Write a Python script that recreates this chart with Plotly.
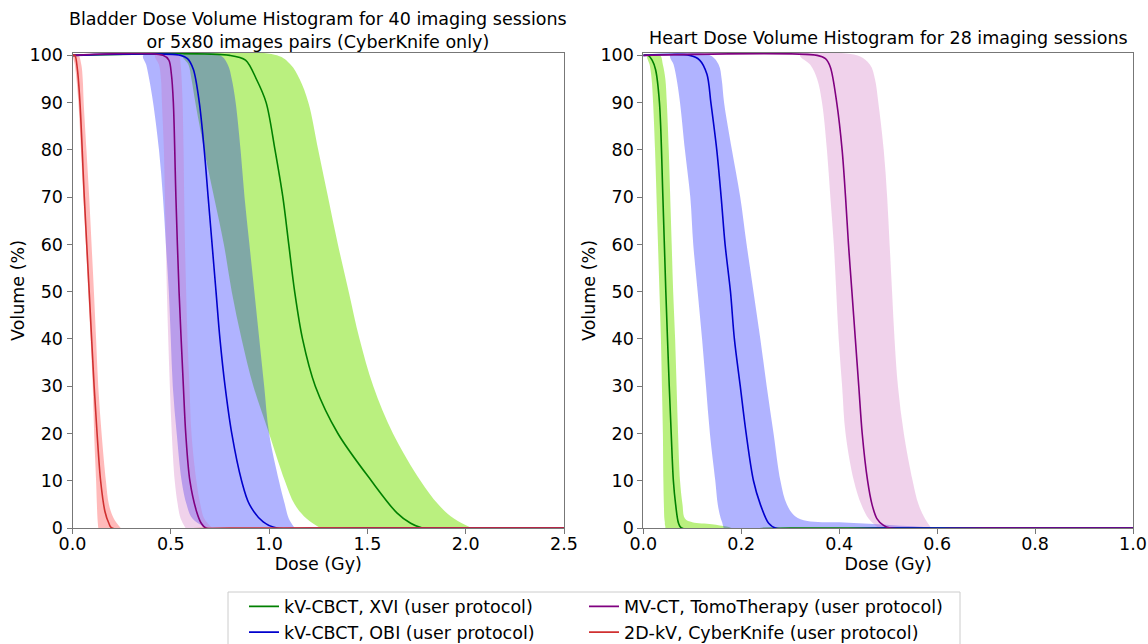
import plotly.graph_objects as go

# ---------------- data ----------------
# Bladder (left panel)
b_band_vol = [100, 98, 95, 90, 80, 70, 60, 50, 40, 30, 20, 10, 5, 2, 0]

b_xvi_line_dose = [0, 0.80, 0.88, 0.935, 0.985, 1.03, 1.07, 1.10, 1.13, 1.17, 1.235, 1.35, 1.52, 1.65, 1.72, 1.78, 2.1, 2.5]
b_xvi_line_vol = [100, 100, 99, 95, 90, 80, 70, 60, 50, 40, 30, 20, 10, 3.2, 1, 0, 0, 0]
b_xvi_lo = [0.56, 0.59, 0.605, 0.625, 0.67, 0.72, 0.77, 0.81, 0.86, 0.92, 1.0, 1.08, 1.13, 1.19, 1.26]
b_xvi_hi = [1.04, 1.11, 1.155, 1.20, 1.25, 1.30, 1.35, 1.405, 1.46, 1.53, 1.63, 1.77, 1.86, 1.94, 2.03]

b_obi_line_dose = [0, 0.55, 0.585, 0.615, 0.645, 0.67, 0.69, 0.71, 0.73, 0.75, 0.776, 0.81, 0.86, 0.90, 0.97, 1.04, 1.5, 2.5]
b_obi_line_vol = [100, 100, 99.3, 97, 90, 80, 70, 60, 50, 40, 30, 20, 10, 5, 1.3, 0, 0, 0]
b_obi_lo = [0.36, 0.375, 0.39, 0.41, 0.44, 0.46, 0.475, 0.49, 0.50, 0.51, 0.53, 0.555, 0.58, 0.61, 0.68]
b_obi_hi = [0.75, 0.79, 0.81, 0.83, 0.855, 0.875, 0.90, 0.925, 0.95, 0.975, 1.0, 1.05, 1.08, 1.10, 1.13]

b_mv_line_dose = [0, 0.46, 0.49, 0.503, 0.513, 0.526, 0.542, 0.564, 0.576, 0.597, 0.631, 0.655, 0.679, 1.2, 2.5]
b_mv_line_vol = [100, 100, 99, 96, 90, 70, 50, 30, 20, 10, 3.5, 1, 0, 0, 0]
b_mv_lo = [0.42, 0.44, 0.45, 0.455, 0.465, 0.47, 0.475, 0.48, 0.487, 0.495, 0.505, 0.52, 0.535, 0.55, 0.575]
b_mv_hi = [0.54, 0.55, 0.555, 0.56, 0.565, 0.568, 0.572, 0.578, 0.585, 0.595, 0.605, 0.63, 0.65, 0.67, 0.71]

b_ck_line_dose = [0, 0.012, 0.025, 0.038, 0.06, 0.085, 0.11, 0.125, 0.143, 0.165, 0.185, 0.2, 0.8, 2.5]
b_ck_line_vol = [100, 100, 97, 90, 70, 50, 30, 20, 10, 3.5, 1, 0, 0, 0]
b_ck_lo = [0.004, 0.012, 0.02, 0.03, 0.043, 0.055, 0.068, 0.08, 0.092, 0.103, 0.11, 0.12, 0.124, 0.127, 0.131]
b_ck_hi = [0.03, 0.045, 0.052, 0.057, 0.071, 0.085, 0.097, 0.109, 0.12, 0.131, 0.148, 0.17, 0.185, 0.21, 0.245]

# Heart (right panel)
h_xvi_line_dose = [0, 0.01, 0.018, 0.025, 0.033, 0.04, 0.046, 0.053, 0.057, 0.0614, 0.066, 0.072, 0.078, 0.3, 1.0]
h_xvi_line_vol = [100, 100, 99, 97, 90, 70, 50, 30, 20, 10, 5, 1, 0, 0, 0]
h_xvi_band_vol = [100, 98, 95, 90, 80, 70, 60, 50, 40, 30, 20, 10, 5, 2, 1.2, 0.8, 0.3, 0]
h_xvi_lo = [0.008, 0.013, 0.017, 0.02, 0.024, 0.027, 0.03, 0.033, 0.036, 0.038, 0.04, 0.041, 0.042, 0.043, 0.044, 0.044, 0.045, 0.045]
h_xvi_hi = [0.034, 0.04, 0.045, 0.048, 0.052, 0.055, 0.058, 0.061, 0.065, 0.068, 0.071, 0.075, 0.08, 0.085, 0.10, 0.14, 0.17, 0.18]

h_obi_line_dose = [0, 0.095, 0.115, 0.13, 0.138, 0.15, 0.159, 0.167, 0.178, 0.186, 0.198, 0.21, 0.225, 0.239, 0.256, 0.27, 0.5, 1.0]
h_obi_line_vol = [100, 100, 99, 96, 90, 80, 70, 60, 50, 40, 30, 20, 10, 5, 1, 0, 0, 0]
h_obi_band_vol = [100, 98, 95, 90, 80, 70, 60, 50, 40, 30, 20, 10, 5, 2.5, 1.5, 1.2, 0.8, 0.4, 0]
h_obi_lo = [0.055, 0.062, 0.068, 0.075, 0.085, 0.096, 0.102, 0.111, 0.12, 0.128, 0.136, 0.147, 0.152, 0.157, 0.16, 0.161, 0.162, 0.163, 0.164]
h_obi_hi = [0.136, 0.154, 0.16, 0.165, 0.181, 0.198, 0.211, 0.225, 0.239, 0.252, 0.266, 0.28, 0.293, 0.31, 0.335, 0.40, 0.48, 0.54, 0.60]

h_mv_line_dose = [0, 0.355, 0.372, 0.382, 0.395, 0.406, 0.413, 0.419, 0.426, 0.433, 0.44, 0.447, 0.458, 0.467, 0.477, 0.49, 0.504, 0.7, 1.0]
h_mv_line_vol = [100, 100, 99.3, 97.5, 90, 80, 70, 60, 50, 40, 30, 20, 10, 5, 2, 0.6, 0, 0, 0]
h_mv_band_vol = [100, 98, 95, 90, 80, 70, 60, 50, 40, 30, 20, 10, 5, 2, 0]
h_mv_lo = [0.32, 0.341, 0.355, 0.365, 0.375, 0.382, 0.389, 0.394, 0.399, 0.406, 0.413, 0.43, 0.445, 0.46, 0.48]
h_mv_hi = [0.436, 0.463, 0.473, 0.48, 0.491, 0.498, 0.503, 0.508, 0.513, 0.52, 0.532, 0.55, 0.562, 0.575, 0.588]

series_names = ["kV-CBCT, XVI (user protocol)", "kV-CBCT, OBI (user protocol)",
                "MV-CT, TomoTherapy (user protocol)", "2D-kV, CyberKnife (user protocol)"]
line_colors = ["#008000", "#0000cd", "#800080", "#d03030"]
band_colors = ["rgba(118,226,0,0.5)", "rgba(0,10,255,0.31)", "rgba(205,105,190,0.3)", "rgba(255,0,0,0.27)"]

y_ticks = [0, 10, 20, 30, 40, 50, 60, 70, 80, 90, 100]
left_x_ticks = [0.0, 0.5, 1.0, 1.5, 2.0, 2.5]
right_x_ticks = [0.0, 0.2, 0.4, 0.6, 0.8, 1.0]

FONT = "DejaVu Sans"
FS = 17.5
W, H = 1148, 644

fig = go.Figure()


def band(lo, hi, vols, color, xa, ya):
    # outline: up the low-dose edge, across the top, down the high-dose edge
    fig.add_trace(go.Scatter(
        x=list(lo)[::-1] + list(hi), y=list(vols)[::-1] + list(vols),
        mode="lines", fill="toself", fillcolor=color,
        line=dict(width=0, shape="spline", smoothing=1.0),
        showlegend=False, hoverinfo="skip", xaxis=xa, yaxis=ya))


def line(d, v, color, name, xa, ya, show, legend="legend"):
    fig.add_trace(go.Scatter(
        x=d, y=v, mode="lines", name=name,
        line=dict(color=color, width=1.6, shape="spline", smoothing=0.9),
        showlegend=show, legend=legend, xaxis=xa, yaxis=ya))


# left panel bands (drawing order: green, blue, pink, red)
band(b_xvi_lo, b_xvi_hi, b_band_vol, band_colors[0], "x", "y")
band(b_obi_lo, b_obi_hi, b_band_vol, band_colors[1], "x", "y")
band(b_mv_lo, b_mv_hi, b_band_vol, band_colors[2], "x", "y")
band(b_ck_lo, b_ck_hi, b_band_vol, band_colors[3], "x", "y")
# right panel bands
band(h_xvi_lo, h_xvi_hi, h_xvi_band_vol, band_colors[0], "x2", "y2")
band(h_obi_lo, h_obi_hi, h_obi_band_vol, band_colors[1], "x2", "y2")
band(h_mv_lo, h_mv_hi, h_mv_band_vol, band_colors[2], "x2", "y2")

# lines
line(b_xvi_line_dose, b_xvi_line_vol, line_colors[0], series_names[0], "x", "y", True, "legend")
line(b_obi_line_dose, b_obi_line_vol, line_colors[1], series_names[1], "x", "y", True, "legend")
line(b_mv_line_dose, b_mv_line_vol, line_colors[2], series_names[2], "x", "y", True, "legend2")
line(b_ck_line_dose, b_ck_line_vol, line_colors[3], series_names[3], "x", "y", True, "legend2")
line(h_xvi_line_dose, h_xvi_line_vol, line_colors[0], series_names[0], "x2", "y2", False)
line(h_obi_line_dose, h_obi_line_vol, line_colors[1], series_names[1], "x2", "y2", False)
line(h_mv_line_dose, h_mv_line_vol, line_colors[2], series_names[2], "x2", "y2", False)

ydom = [1 - 528 / H, 1 - 53 / H]
axis_common = dict(showline=True, mirror=True, linecolor="#777", linewidth=1,
                   ticks="outside", ticklen=5, tickcolor="#777", showgrid=False,
                   zeroline=False, tickfont=dict(size=FS, color="black"),
                   automargin=False)

fig.update_layout(
    width=W, height=H, margin=dict(l=0, r=0, t=0, b=0, autoexpand=False),
    paper_bgcolor="white", plot_bgcolor="white",
    font=dict(family=FONT, size=FS, color="black"),
    xaxis=dict(domain=[72.5 / W, 564 / W], range=[0, 2.5], tickvals=left_x_ticks,
               ticktext=[f"{t:.1f}" for t in left_x_ticks], ticklabelstandoff=-5,
               title=dict(text="Dose (Gy)", standoff=0, font=dict(size=FS)), anchor="y", **axis_common),
    yaxis=dict(domain=ydom, range=[0, 100.5], tickvals=y_ticks,
               title=dict(text="Volume (%)", standoff=0, font=dict(size=FS)), anchor="x", **axis_common),
    xaxis2=dict(domain=[643.3 / W, 1133 / W], range=[0, 1.0], tickvals=right_x_ticks,
                ticktext=[f"{t:.1f}" for t in right_x_ticks], ticklabelstandoff=-5,
                title=dict(text="Dose (Gy)", standoff=0, font=dict(size=FS)), anchor="y2", **axis_common),
    yaxis2=dict(domain=ydom, range=[0, 100.5], tickvals=y_ticks,
                title=dict(text="Volume (%)", standoff=0, font=dict(size=FS)), anchor="x2", **axis_common),
    legend=dict(x=244 / W, y=-6.5 / H, xanchor="left", yanchor="bottom",
                bgcolor="rgba(0,0,0,0)", font=dict(size=FS), tracegroupgap=0),
    legend2=dict(x=584 / W, y=-6.5 / H, xanchor="left", yanchor="bottom",
                 bgcolor="rgba(0,0,0,0)", font=dict(size=FS), tracegroupgap=0),
    shapes=[dict(type="rect", xref="paper", yref="paper",
                 x0=228 / W, x1=960 / W, y0=-0.05, y1=1 - 592 / H,
                 line=dict(color="#cccccc", width=1), fillcolor="rgba(255,255,255,0.8)", layer="below")],
    annotations=[
        dict(text="Bladder Dose Volume Histogram for 40 imaging sessions<br>or 5x80 images pairs (CyberKnife only)",
             x=318 / W, y=1 - 54 / H, xref="paper", yref="paper", xanchor="center", yanchor="bottom",
             showarrow=False, font=dict(size=FS)),
        dict(text="Heart Dose Volume Histogram for 28 imaging sessions",
             x=888 / W, y=1 - 50 / H, xref="paper", yref="paper", xanchor="center", yanchor="bottom",
             showarrow=False, font=dict(size=FS)),
    ],
)

fig.write_html("out.html", config={"displayModeBar": False},
               post_script="document.body.style.margin='0px';document.body.style.overflow='hidden';")
